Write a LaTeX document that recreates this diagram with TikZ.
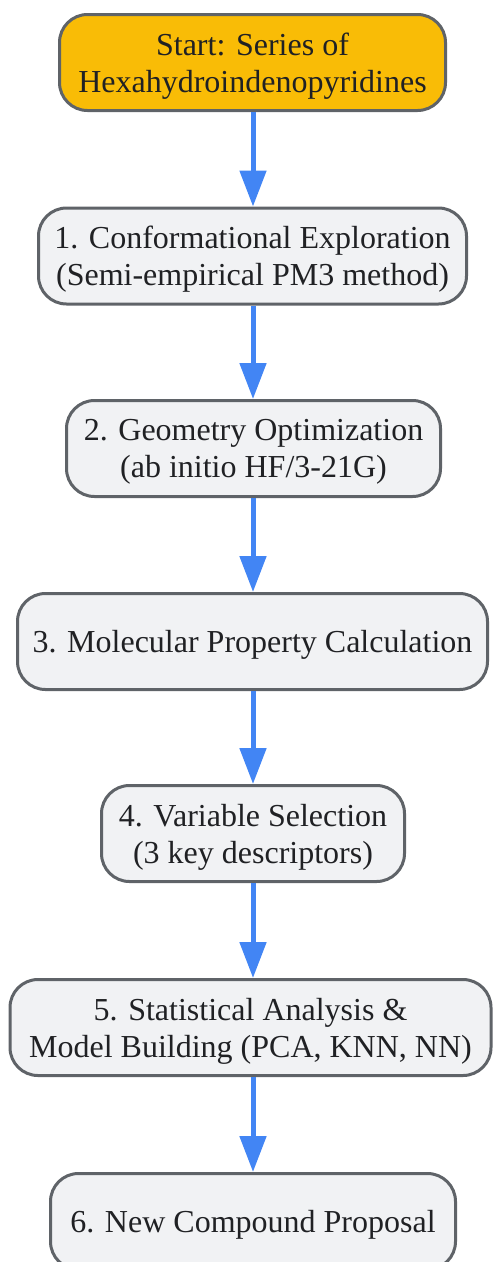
\documentclass[tikz,border=0pt]{standalone}
\usepackage{fontspec}
\setmainfont{Liberation Serif}
\usetikzlibrary{arrows.meta}
\definecolor{bordergray}{HTML}{5F6368}
\definecolor{boxfill}{HTML}{F1F2F4}
\definecolor{startfill}{HTML}{F9BC06}
\definecolor{arrowblue}{HTML}{4285F4}
\definecolor{textdark}{HTML}{202124}
\tikzset{
  box/.style={draw=bordergray, line width=3pt, fill=boxfill, rounded corners=28pt,
    inner sep=0pt, minimum height=96pt},
  startbox/.style={box, fill=startfill},
  boxtext/.style={align=center, text=textdark, inner sep=0pt,
    font=\fontsize{32}{37}\selectfont},
  flow/.style={draw=arrowblue, line width=5pt, -{Triangle[width=26pt,length=36pt]}}
}
\begin{document}
\begin{tikzpicture}[x=1pt,y=1pt]
\useasboundingbox (0,0) rectangle (494,-1262);
\node[startbox, minimum width=386pt] (s) at (252.5,-62.5) {};
\node[box, minimum width=428pt] (n1) at (252.5,-256) {};
\node[box, minimum width=374pt] (n2) at (253.5,-448.5) {};
\node[box, minimum width=470pt] (n3) at (252.5,-641.5) {};
\node[box, minimum width=303pt] (n4) at (253,-833.5) {};
\node[box, minimum width=481pt] (n5) at (250.5,-1027.5) {};
\node[box, minimum width=405pt] (n6) at (253,-1221.5) {};
\node[boxtext] (ts) at ([yshift=-3.5pt]s.center) {Start: Series of\\Hexahydroindenopyridines};
\node[boxtext] (t1) at ([yshift=-3.5pt]n1.center) {1. Conformational Exploration\\(Semi-empirical PM3 method)};
\node[boxtext] (t2) at ([yshift=-3.5pt]n2.center) {2. Geometry Optimization\\(ab initio HF/3-21G)};
\node[boxtext] (t3) at ([yshift=-3.5pt]n3.center) {3. Molecular Property Calculation};
\node[boxtext] (t4) at ([yshift=-3.5pt]n4.center) {4. Variable Selection\\(3 key descriptors)};
\node[boxtext] (t5) at ([yshift=-3.5pt]n5.center) {5. Statistical Analysis \&\\Model Building (PCA, KNN, NN)};
\node[boxtext] (t6) at ([yshift=-3.5pt]n6.center) {6. New Compound Proposal};
\draw[flow] (s.south -| 253,0) -- (n1.north -| 253,0);
\draw[flow] (n1.south -| 253,0) -- (n2.north -| 253,0);
\draw[flow] (n2.south -| 253,0) -- (n3.north -| 253,0);
\draw[flow] (n3.south -| 253,0) -- (n4.north -| 253,0);
\draw[flow] (n4.south -| 253,0) -- (n5.north -| 253,0);
\draw[flow] (n5.south -| 253,0) -- (n6.north -| 253,0);
\end{tikzpicture}
\end{document}
